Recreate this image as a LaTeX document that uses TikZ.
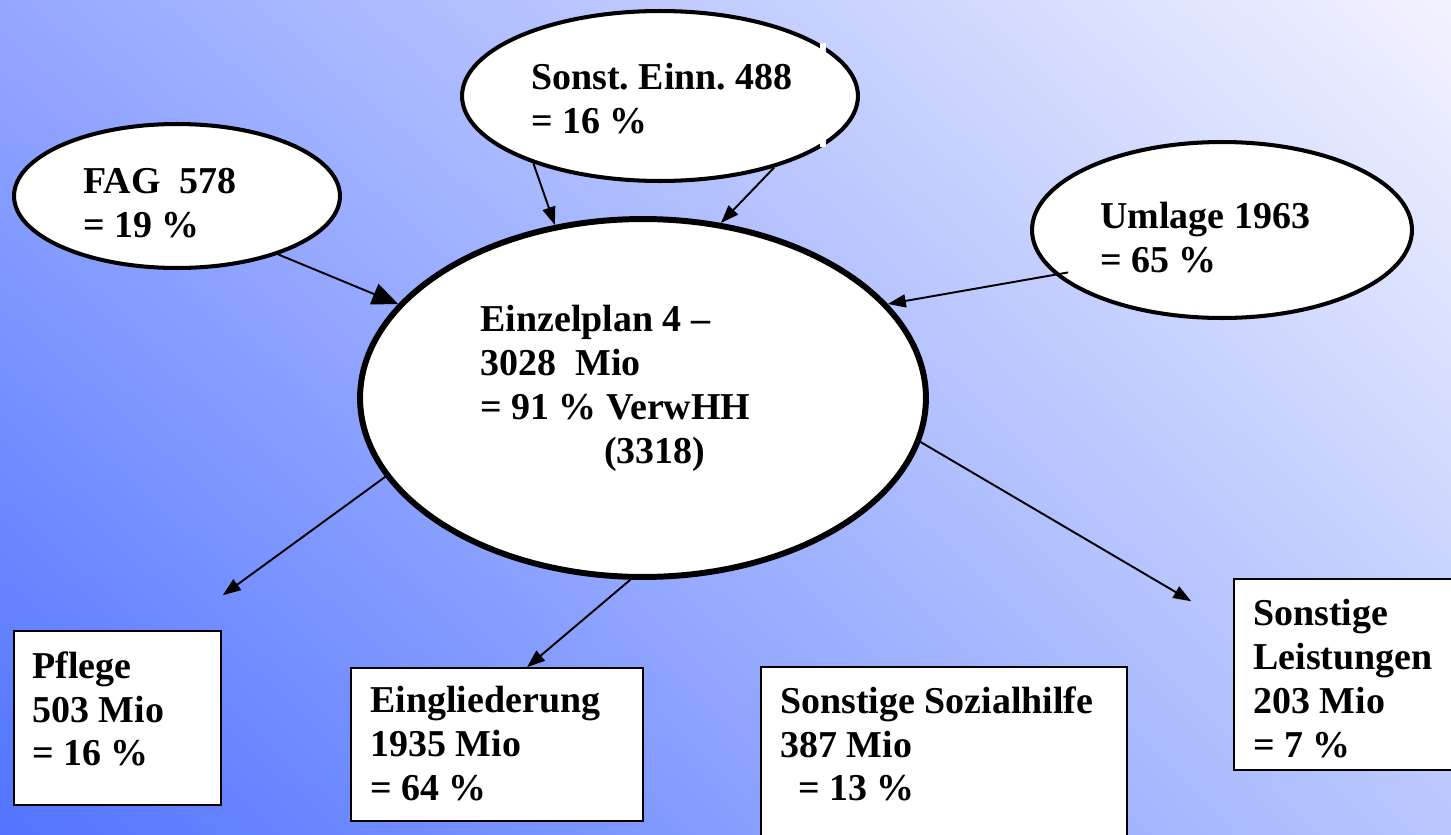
\documentclass[tikz,border=0pt]{standalone}
\usepackage{fontspec}
\setmainfont{Liberation Serif}
\frenchspacing
\usetikzlibrary{arrows.meta,calc,shapes.geometric,shadings}
\definecolor{bgll}{RGB}{82,116,255}
\definecolor{bgur}{RGB}{242,243,254}
\definecolor{bgul}{RGB}{148,167,255}
\definecolor{bglr}{RGB}{185,198,254}
\tikzset{
 oval/.style={ellipse,draw,fill=white,line width=2.3pt,inner sep=0pt},
 box/.style={rectangle,draw,fill=white,line width=0.9pt,inner sep=0pt},
 txt/.style={anchor=north west,inner sep=0pt,align=left,font=\fontsize{21.6}{25}\selectfont\bfseries},
 arr/.style={line width=1.1pt,-{Triangle[length=0.36cm,width=0.26cm]}},
 bigarr/.style={line width=1.1pt,-{Triangle[length=0.52cm,width=0.44cm]}}
}
\begin{document}
\begin{tikzpicture}[x=0.02cm,y=-0.02cm]
 \path[use as bounding box,clip] (0,0) rectangle (1451,835);
 \shade[lower left=bgll,upper right=bgur,upper left=bgul,lower right=bglr] (0,0) rectangle (1451,835);
 \node[oval,minimum width=6.52cm,minimum height=2.88cm] (fag) at (177,196) {};
 \node[oval,minimum width=7.92cm,minimum height=3.4cm] (sonst) at (660,96) {};
 \fill[white] (820,43) rectangle (826,147);
 \node[oval,minimum width=7.6cm,minimum height=3.52cm] (umlage) at (1222,230) {};
 \node[oval,line width=3.4pt,minimum width=11.32cm,minimum height=7.16cm] (plan) at (643,398) {};
 \node[box,minimum width=4.14cm,minimum height=3.48cm] (pflege) at (117.5,718) {};
 \node[box,minimum width=5.84cm,minimum height=3.06cm] (eing) at (497,744.5) {};
 \node[box,minimum width=7.32cm,minimum height=3.6cm] (sozial) at (944,757) {};
 \node[box,minimum width=4.8cm,minimum height=3.82cm] (leist) at (1354,674.5) {};
 \draw[bigarr] (fag.-30) -- (plan.159);
 \draw[arr] (sonst.-152) -- (plan.117);
 \draw[arr] (sonst.-32) -- (plan.66);
 \draw[arr,shorten <=-0.26cm] (umlage.-165) -- (plan.21);
 \draw[arr] (plan.-163) -- ($(pflege.north east)+(1,-35)$);
 \draw[arr] (plan.-94) -- ($(eing.north)+(30,0)$);
 \draw[arr] (plan.-9) -- ($(leist.north west)+(-42,23)$);
 \node[txt] (fagtxt) at (83,168) {FAG\ \ 578\\= 19 \%};
 \node[txt] (sonsttxt) at (531,63) {Sonst. Einn. 488\\= 16 \%};
 \node[txt] (umlagetxt) at (1100,202) {Umlage 1963\\= 65 \%};
 \node[txt] (plantxt) at (480,305) {Einzelplan 4 --\\3028\ \ Mio\\= 91 \% VerwHH\\\hspace*{2.48cm}(3318)};
 \node[txt] (pflegetxt) at (32,651) {Pflege\\503 Mio\\= 16 \%};
 \node[txt] (eingtxt) at (370,686) {Eingliederung\\1935 Mio\\= 64 \%};
 \node[txt] (sozialtxt) at (780,686) {Sonstige Sozialhilfe\\387 Mio\\\hspace*{0.36cm}= 13 \%};
 \node[txt] (leisttxt) at (1253,599) {Sonstige\\Leistungen\\203 Mio\\= 7 \%};
\end{tikzpicture}
\end{document}
